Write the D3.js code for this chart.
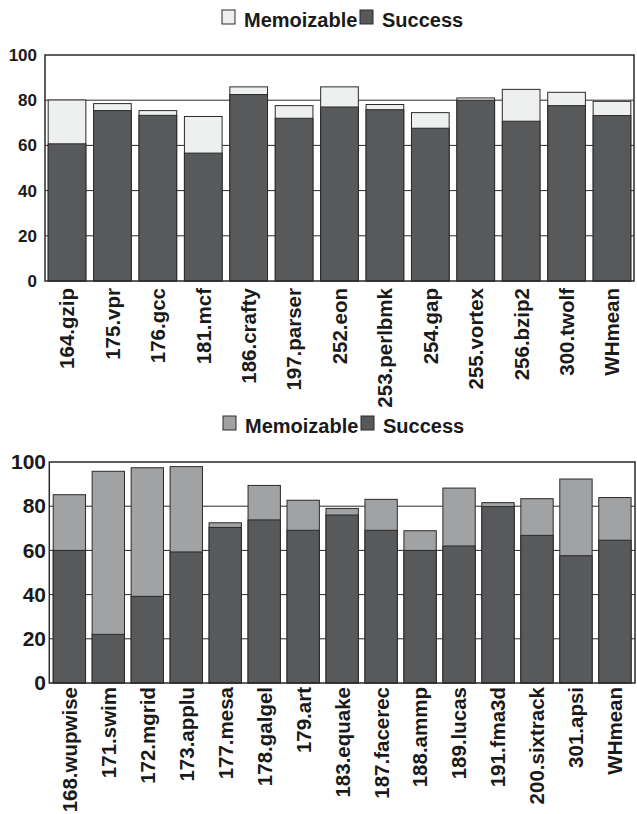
<!DOCTYPE html>
<html>
<head>
<meta charset="utf-8">
<script src="https://cdn.jsdelivr.net/npm/d3@7"></script>
<style>
  body { margin: 0; background: #fff; }
  text { font-family: "Liberation Sans", Arial, sans-serif; font-weight: bold; fill: #1a1a1a; }
</style>
</head>
<body>
<div id="chart"></div>
<script>
// SPECint benchmarks
var intNames = ["164.gzip", "175.vpr", "176.gcc", "181.mcf", "186.crafty", "197.parser", "252.eon",
  "253.perlbmk", "254.gap", "255.vortex", "256.bzip2", "300.twolf", "WHmean"];
var intSuccess = [60.7, 75.4, 73.3, 56.6, 82.5, 72.0, 77.0, 75.8, 67.6, 80.0, 70.7, 77.6, 73.2];
var intMemo = [80.1, 78.5, 75.4, 72.8, 85.9, 77.6, 85.9, 78.1, 74.5, 81.0, 84.8, 83.5, 79.5];

// SPECfp benchmarks
var fpNames = ["168.wupwise", "171.swim", "172.mgrid", "173.applu", "177.mesa", "178.galgel", "179.art",
  "183.equake", "187.facerec", "188.ammp", "189.lucas", "191.fma3d", "200.sixtrack", "301.apsi", "WHmean"];
var fpSuccess = [60.0, 22.0, 39.2, 59.3, 70.4, 73.8, 69.1, 76.0, 69.1, 60.0, 62.0, 79.8, 66.8, 57.6, 64.6];
var fpMemo = [85.2, 95.8, 97.4, 97.9, 72.5, 89.4, 82.7, 79.0, 83.1, 68.9, 88.2, 81.6, 83.4, 92.3, 83.9];

var yTicks = [0, 20, 40, 60, 80, 100];
var seriesNames = ["Memoizable", "Success"];

var svg = d3.select("#chart").append("svg")
  .attr("width", 637)
  .attr("height", 814);

function drawChart(cfg) {
  var g = svg.append("g");

  var x = d3.scaleBand()
    .domain(cfg.names)
    .range([cfg.left, cfg.right])
    .paddingInner(0.17)
    .paddingOuter(cfg.outer);

  var y = d3.scaleLinear()
    .domain([0, 100])
    .range([cfg.bottom, cfg.top]);

  // gridlines
  g.selectAll(".grid")
    .data(yTicks.filter(function(d) { return d > 0 && d < 100; }))
    .enter().append("line")
    .attr("x1", cfg.left).attr("x2", cfg.right)
    .attr("y1", function(d) { return y(d); })
    .attr("y2", function(d) { return y(d); })
    .attr("stroke", "#2a2a2a")
    .attr("stroke-width", 1);

  var bars = g.selectAll(".bar")
    .data(cfg.names)
    .enter().append("g");

  // memoizable (total height)
  bars.append("rect")
    .attr("x", function(d) { return x(d); })
    .attr("width", x.bandwidth())
    .attr("y", function(d, i) { return y(cfg.memo[i]); })
    .attr("height", function(d, i) { return y(0) - y(cfg.memo[i]); })
    .attr("fill", cfg.memoColor)
    .attr("stroke", "#2a2a2a")
    .attr("stroke-width", 1);

  // success
  bars.append("rect")
    .attr("x", function(d) { return x(d); })
    .attr("width", x.bandwidth())
    .attr("y", function(d, i) { return y(cfg.success[i]); })
    .attr("height", function(d, i) { return y(0) - y(cfg.success[i]); })
    .attr("fill", "#58595b")
    .attr("stroke", "#2a2a2a")
    .attr("stroke-width", 1);

  // frame
  g.append("rect")
    .attr("x", cfg.left).attr("y", cfg.top)
    .attr("width", cfg.right - cfg.left)
    .attr("height", cfg.bottom - cfg.top)
    .attr("fill", "none")
    .attr("stroke", "#2a2a2a")
    .attr("stroke-width", 1.5);

  // y axis labels
  var yAxis = d3.axisLeft(y).tickValues(yTicks).tickSize(0).tickPadding(cfg.left - cfg.yLabelX);
  var ya = g.append("g")
    .attr("transform", "translate(" + cfg.left + ",0)")
    .call(yAxis);
  ya.select(".domain").remove();
  ya.selectAll("text")
    .style("font-size", cfg.yFont + "px")
    .style("font-family", "Liberation Sans, Arial, sans-serif")
    .style("font-weight", "bold")
    .attr("fill", "#1a1a1a");

  // x labels, rotated
  var xAxis = d3.axisBottom(x).tickSize(0).tickPadding(0);
  var xa = g.append("g")
    .attr("transform", "translate(0," + cfg.bottom + ")")
    .call(xAxis);
  xa.select(".domain").remove();
  xa.selectAll("text")
    .attr("transform", "rotate(-90)")
    .attr("x", -cfg.xGap)
    .attr("y", 0)
    .attr("dy", "0.36em")
    .attr("text-anchor", "end")
    .style("font-size", "20.5px")
    .style("font-family", "Liberation Sans, Arial, sans-serif")
    .style("font-weight", "bold")
    .attr("fill", "#1a1a1a");

  // legend
  var lg = svg.append("g");
  var legendColors = [cfg.memoColor, "#58595b"];
  var boxX = [cfg.legX, cfg.legX + 138];
  seriesNames.forEach(function(name, i) {
    lg.append("rect")
      .attr("x", boxX[i]).attr("y", cfg.legY - 13)
      .attr("width", 13).attr("height", 14)
      .attr("fill", legendColors[i])
      .attr("stroke", "#2a2a2a")
      .attr("stroke-width", 1);
    lg.append("text")
      .attr("x", boxX[i] + 22)
      .attr("y", cfg.legY + 4)
      .style("font-size", "20px")
      .text(name);
  });
}

drawChart({
  names: intNames, success: intSuccess, memo: intMemo,
  left: 45, right: 634, top: 55, bottom: 281, outer: 0.07,
  memoColor: "#eeefef", yFont: 17, yLabelX: 37, xGap: 7,
  legX: 222, legY: 23
});

drawChart({
  names: fpNames, success: fpSuccess, memo: fpMemo,
  left: 49.3, right: 635, top: 462, bottom: 683, outer: 0.1,
  memoColor: "#a0a2a4", yFont: 21, yLabelX: 46, xGap: 4,
  legX: 223, legY: 429
});
</script>
</body>
</html>
